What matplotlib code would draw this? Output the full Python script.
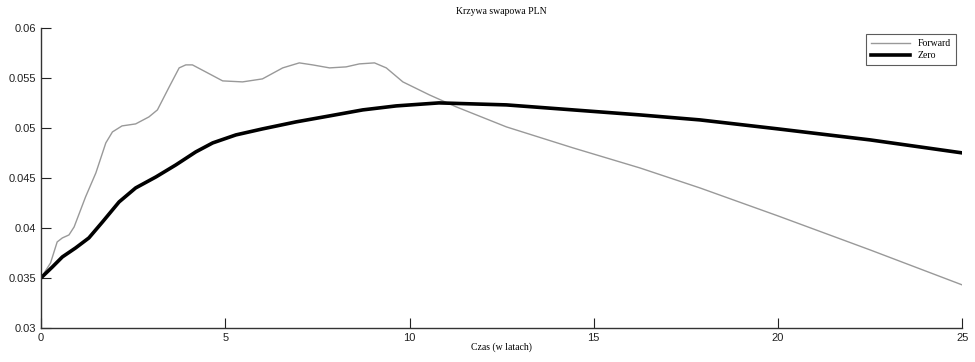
import matplotlib
matplotlib.use('Agg')
import matplotlib.pyplot as plt

# forward curve
fwd_t = [0.0, 0.26, 0.44, 0.58, 0.76, 0.9, 1.21, 1.49, 1.76, 1.94, 2.2, 2.57, 2.93,
         3.16, 3.48, 3.75, 3.93, 4.11, 4.47, 4.93, 5.47, 6.01, 6.56, 7.01, 7.37,
         7.83, 8.28, 8.64, 9.05, 9.37, 9.82, 10.54, 11.27, 12.63, 14.44, 16.25,
         17.88, 20.0, 22.5, 25.0]
fwd_r = [0.0350, 0.0365, 0.0386, 0.0390, 0.0393, 0.0401, 0.0431, 0.0455, 0.0485,
         0.0496, 0.0502, 0.0504, 0.0511, 0.0518, 0.0541, 0.0560, 0.0563, 0.0563,
         0.0556, 0.0547, 0.0546, 0.0549, 0.0560, 0.0565, 0.0563, 0.0560, 0.0561,
         0.0564, 0.0565, 0.0560, 0.0546, 0.0533, 0.0521, 0.0501, 0.0480, 0.0460,
         0.0440, 0.0412, 0.0378, 0.0343]

# zero curve
zero_t = [0.0, 0.31, 0.58, 0.94, 1.3, 1.67, 2.12, 2.57, 3.12, 3.66, 4.2, 4.66,
          5.29, 6.01, 6.92, 7.83, 8.73, 9.64, 10.8, 12.63, 14.44, 16.25, 17.88,
          20.0, 22.5, 25.0]
zero_r = [0.0350, 0.0361, 0.0371, 0.0380, 0.0390, 0.0406, 0.0426, 0.0440, 0.0451,
          0.0463, 0.0476, 0.0485, 0.0493, 0.0499, 0.0506, 0.0512, 0.0518, 0.0522,
          0.0525, 0.0523, 0.0518, 0.0513, 0.0508, 0.0499, 0.0488, 0.0475]

yticks = [0.03, 0.035, 0.04, 0.045, 0.05, 0.055, 0.06]
ytick_labels = ['0.03', '0.035', '0.04', '0.045', '0.05', '0.055', '0.06']

fig = plt.figure(figsize=(9.75, 3.62), dpi=100)
ax = fig.add_axes([0.042, 0.094, 0.945, 0.829])

ax.plot(fwd_t, fwd_r, color='#999999', lw=1.0, label='Forward')
ax.plot(zero_t, zero_r, color='black', lw=2.6, label='Zero')

ax.set_xlim(0, 25)
ax.set_ylim(0.03, 0.06)
ax.set_xticks([0, 5, 10, 15, 20, 25])
ax.set_yticks(yticks)
ax.set_yticklabels(ytick_labels)
ax.tick_params(direction='in', length=7, width=0.8, labelsize=8, colors='#222222')
for lab in ax.get_xticklabels() + ax.get_yticklabels():
    lab.set_family('Liberation Sans')
ax.spines['top'].set_visible(False)
ax.spines['right'].set_visible(False)
for s in ('left', 'bottom'):
    ax.spines[s].set_linewidth(1.0)
    ax.spines[s].set_color('#333333')

ax.set_title('Krzywa swapowa PLN', fontsize=7, family='Liberation Serif', pad=10)
ax.set_xlabel('Czas (w latach)', fontsize=7, family='Liberation Serif', labelpad=0)

leg = ax.legend(loc='upper right', fancybox=False, edgecolor='#333333',
                prop={'family': 'Liberation Serif', 'size': 7}, handlelength=4,
                borderpad=0.5, labelspacing=0.3, bbox_to_anchor=(0.998, 0.995))
leg.get_frame().set_linewidth(0.8)

fig.savefig('out.png', dpi=100)
